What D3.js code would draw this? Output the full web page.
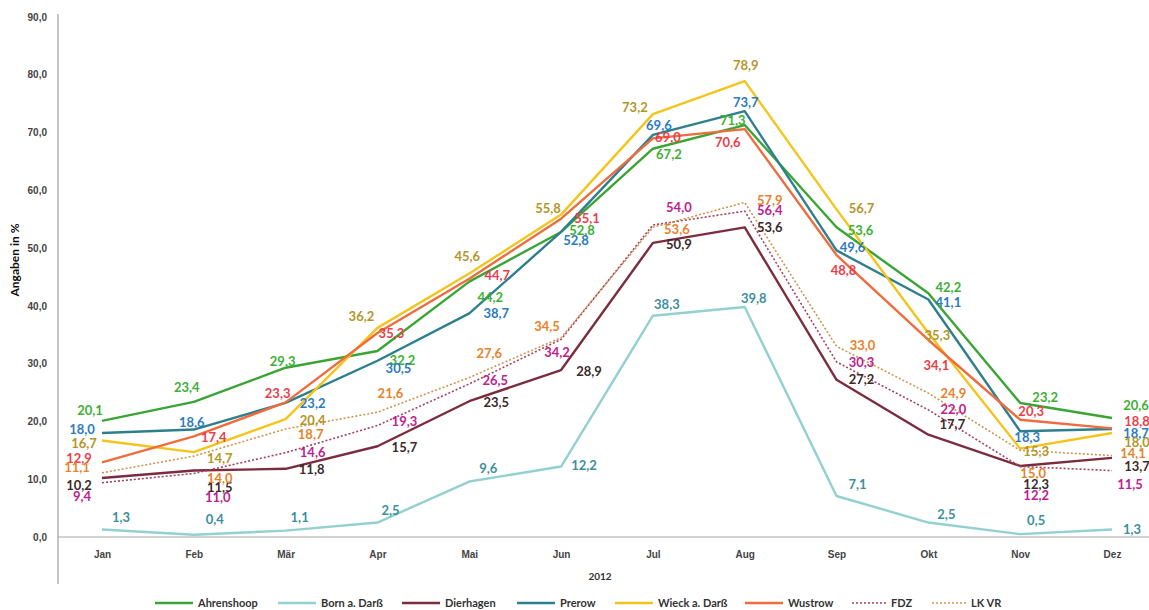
<!DOCTYPE html>
<html lang="de">
<head>
<meta charset="UTF-8">
<title>Auslastung 2012</title>
<script src="https://d3js.org/d3.v7.min.js"></script>
<style>
  body { margin: 0; background: #fff; }
  svg { font-family: Lato, "Open Sans", sans-serif; }
  .tick text { font-size: 10px; font-weight: bold; fill: #444; }
  .lbl { font-size: 13px; font-weight: bold; }
  .legend text { font-size: 11px; font-weight: bold; fill: #333; }
</style>
</head>
<body>
<svg id="chart" width="1149" height="610"></svg>
<script>
// data
const months = ["Jan", "Feb", "Mär", "Apr", "Mai", "Jun", "Jul", "Aug", "Sep", "Okt", "Nov", "Dez"];
const yTicks = [0, 10, 20, 30, 40, 50, 60, 70, 80, 90];
const seriesNames = ["Ahrenshoop", "Born a. Darß", "Dierhagen", "Prerow", "Wieck a. Darß", "Wustrow", "FDZ", "LK VR"];
const ahrenshoop = [20.1, 23.4, 29.3, 32.2, 44.2, 52.8, 67.2, 71.3, 53.6, 42.2, 23.2, 20.6];
const bornDarss  = [1.3, 0.4, 1.1, 2.5, 9.6, 12.2, 38.3, 39.8, 7.1, 2.5, 0.5, 1.3];
const dierhagen  = [10.2, 11.5, 11.8, 15.7, 23.5, 28.9, 50.9, 53.6, 27.2, 17.7, 12.3, 13.7];
const prerow     = [18.0, 18.6, 23.2, 30.5, 38.7, 52.8, 69.6, 73.7, 49.6, 41.1, 18.3, 18.7];
const wieckDarss = [16.7, 14.7, 20.4, 36.2, 45.6, 55.8, 73.2, 78.9, 56.7, 35.3, 15.3, 18.0];
const wustrow    = [12.9, 17.4, 23.3, 35.3, 44.7, 55.1, 69.0, 70.6, 48.8, 34.1, 20.3, 18.8];
const fdz        = [9.4, 11.0, 14.6, 19.3, 26.5, 34.2, 54.0, 56.4, 30.3, 22.0, 12.2, 11.5];
const lkvr       = [11.1, 14.0, 18.7, 21.6, 27.6, 34.5, 53.6, 57.9, 33.0, 24.9, 15.0, 14.1];

// styling per series (line colour, label colour, dotted or not)
const styles = [
  { line: "#3aa535", label: "#3cb034", dash: null },
  { line: "#93d0d0", label: "#3b8fa0", dash: null },
  { line: "#7b2c3e", label: "#3b2a2a", dash: null },
  { line: "#2e7f8e", label: "#2a7bbf", dash: null },
  { line: "#f5c41a", label: "#b39528", dash: null },
  { line: "#ee6c3e", label: "#ec3d4a", dash: null },
  { line: "#a5405e", label: "#c0208f", dash: "2,2" },
  { line: "#cf9450", label: "#e8822a", dash: "2,2" }
];

// label nudges [dx, dy] from the point, like the hand-placed labels in the original
const nudges = [
  [[-12,-10],[-7,-14],[-3,-6],[25,9],[21,16],[21,-1],[16,6],[-12,-5],[24,3],[20,-6],[25,-6],[24,-13]],
  [[19,-12],[21,-15],[14,-13],[13,-12],[19,-13],[23,-1],[14,-11],[9,-9],[21,-12],[18,-8],[16,-14],[20,0]],
  [[-23,7],[26,17],[26,1],[27,1],[27,1],[28,1],[26,2],[25,0],[25,0],[24,-10],[16,19],[25,9]],
  [[-20,-4],[-2,-7],[27,0],[21,8],[27,0],[15,9],[6,-9],[1,-9],[16,-3],[20,3],[7,6],[24,4]],
  [[-18,3],[26,6],[27,1],[-16,-11],[-2,-17],[-13,-6],[-18,-7],[1,-16],[25,-1],[9,2],[16,3],[25,9]],
  [[-23,-4],[20,1],[-8,-9],[14,0],[28,-3],[26,0],[15,-1],[-17,13],[7,15],[8,25],[11,-8],[25,-7]],
  [[-20,14],[24,24],[27,0],[27,-4],[26,-3],[-4,13],[26,-18],[25,-1],[25,1],[25,0],[16,29],[18,14]],
  [[-25,-5],[26,22],[25,5],[13,-19],[20,-24],[-14,-11],[24,2],[25,-2],[26,-1],[25,0],[13,23],[21,-2]]
];

const allValues = [ahrenshoop, bornDarss, dierhagen, prerow, wieckDarss, wustrow, fdz, lkvr];
const series = seriesNames.map((name, i) => ({ name, values: allValues[i], style: styles[i], nudge: nudges[i] }));

const svg = d3.select("#chart");

const x = d3.scalePoint().domain(months).range([102, 1112]);
const y = d3.scaleLinear().domain([0, 90]).range([537, 17]);
const fmt = v => d3.format(".1f")(v).replace(".", ",");

// y axis
const yAxis = svg.append("g")
  .attr("transform", "translate(58,0)")
  .call(d3.axisLeft(y).tickValues(yTicks).tickSize(0).tickPadding(11).tickFormat(fmt));
yAxis.select(".domain").remove();
svg.append("line").attr("x1", 58).attr("x2", 58).attr("y1", 14).attr("y2", 584)
  .attr("stroke", "#8c8c8c").attr("stroke-width", 1);

// x axis (zero line + month names)
svg.append("line").attr("x1", 58).attr("x2", 1149).attr("y1", y(0)).attr("y2", y(0))
  .attr("stroke", "#a6a6a6").attr("stroke-width", 1.2);
const xAxis = svg.append("g")
  .attr("transform", "translate(0,548)")
  .call(d3.axisBottom(x).tickSize(0).tickPadding(3));
xAxis.select(".domain").remove();

svg.append("text").attr("x", 600).attr("y", 580).attr("text-anchor", "middle")
  .style("font-size", "10px").style("font-weight", "bold").style("fill", "#333").text("2012");

svg.append("text")
  .attr("transform", "translate(19,260) rotate(-90)")
  .attr("text-anchor", "middle")
  .style("font-size", "12px").style("font-weight", "bold").style("fill", "#111")
  .text("Angaben in %");

// lines
const line = d3.line().x((d, i) => x(months[i])).y(d => y(d));
svg.append("g").selectAll("path")
  .data(series)
  .join("path")
  .attr("d", d => line(d.values))
  .attr("fill", "none")
  .attr("stroke", d => d.style.line)
  .attr("stroke-width", d => d.style.dash ? 1.6 : 2.4)
  .attr("stroke-dasharray", d => d.style.dash)
  .attr("stroke-linejoin", "round");

// data labels
series.forEach(s => {
  svg.append("g").selectAll("text")
    .data(s.values)
    .join("text")
    .attr("class", "lbl")
    .attr("x", (d, i) => x(months[i]) + s.nudge[i][0])
    .attr("y", (d, i) => y(d) + s.nudge[i][1])
    .attr("dy", "0.35em")
    .attr("text-anchor", "middle")
    .attr("fill", s.style.label)
    .text(fmt);
});

// legend
const legendX = [155, 278, 402, 517, 615, 745, 852, 932];
const legend = svg.append("g").attr("class", "legend");
series.forEach((s, i) => {
  const g = legend.append("g").attr("transform", `translate(${legendX[i]},603)`);
  const w = s.style.dash ? 34 : 38;
  g.append("line").attr("x1", 0).attr("x2", w).attr("y1", 0).attr("y2", 0)
    .attr("stroke", s.style.line)
    .attr("stroke-width", s.style.dash ? 1.6 : 2.4)
    .attr("stroke-dasharray", s.style.dash);
  g.append("text").attr("x", w + 5).attr("y", 0).attr("dy", "0.35em").text(s.name);
});
</script>
</body>
</html>
